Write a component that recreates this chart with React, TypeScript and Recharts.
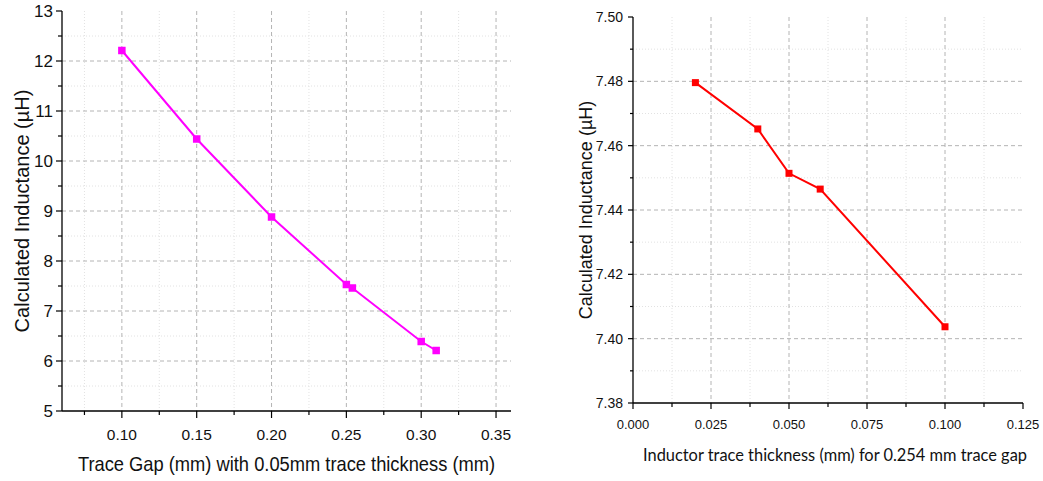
import React from 'react';
import { LineChart, Line, XAxis, YAxis, CartesianGrid } from 'recharts';

// ---------- Left chart data ----------
const gapX = [0.1, 0.15, 0.2, 0.25, 0.254, 0.3, 0.31];
const gapL = [12.21, 10.44, 8.88, 7.53, 7.46, 6.39, 6.21];
const leftXMajor = [0.1, 0.15, 0.2, 0.25, 0.3, 0.35];
const leftXMinor = [0.075, 0.125, 0.175, 0.225, 0.275, 0.325];
const leftXLabels = ['0.10', '0.15', '0.20', '0.25', '0.30', '0.35'];
const leftYMajor = [5, 6, 7, 8, 9, 10, 11, 12, 13];
const leftYMinor = [5.5, 6.5, 7.5, 8.5, 9.5, 10.5, 11.5, 12.5];
const leftYLabels = ['5', '6', '7', '8', '9', '10', '11', '12', '13'];
const leftGridY = [6, 7, 8, 9, 10, 11, 12];

// ---------- Right chart data ----------
const thickX = [0.02, 0.04, 0.05, 0.06, 0.1];
const thickL = [7.4796, 7.4652, 7.4514, 7.4465, 7.4037];
const rightXMajor = [0, 0.025, 0.05, 0.075, 0.1, 0.125];
const rightXMinor = [0.0125, 0.0375, 0.0625, 0.0875, 0.1125];
const rightXLabels = ['0.000', '0.025', '0.050', '0.075', '0.100', '0.125'];
const rightYMajor = [7.38, 7.4, 7.42, 7.44, 7.46, 7.48, 7.5];
const rightYMinor = [7.39, 7.41, 7.43, 7.45, 7.47, 7.49];
const rightYLabels = ['7.38', '7.40', '7.42', '7.44', '7.46', '7.48', '7.50'];
const rightGridX = [0.025, 0.05, 0.075, 0.1];
const rightGridY = [7.4, 7.42, 7.44, 7.46, 7.48];

const leftData = gapX.map((x, i) => ({ x, y: gapL[i] }));
const rightData = thickX.map((x, i) => ({ x, y: thickL[i] }));

const FONT = '"Liberation Sans", Arial, sans-serif';

const idx = (arr: number[], v: number) => arr.findIndex((m) => Math.abs(m - v) < 1e-9);

const makeXTick = (major: number[], labels: string[], majorLen: number, minorLen: number, gap: number, fontSize: number) =>
  (props: any) => {
    const { x, y, payload } = props;
    const i = idx(major, payload.value);
    const isMajor = i >= 0;
    return (
      <g>
        <line x1={x} x2={x} y1={y} y2={y + (isMajor ? majorLen : minorLen)} stroke="#000" strokeWidth={1.2} />
        {isMajor && (
          <text x={x} y={y + gap} dy="0.35em" textAnchor="middle" fontSize={fontSize} fontFamily={FONT} fill="#111">
            {labels[i]}
          </text>
        )}
      </g>
    );
  };

const makeYTick = (major: number[], labels: string[], majorLen: number, minorLen: number, gap: number, fontSize: number) =>
  (props: any) => {
    const { x, y, payload } = props;
    const i = idx(major, payload.value);
    const isMajor = i >= 0;
    return (
      <g>
        <line x1={x - (isMajor ? majorLen : minorLen)} x2={x} y1={y} y2={y} stroke="#000" strokeWidth={1.2} />
        {isMajor && (
          <text x={x - gap} y={y} dy="0.35em" textAnchor="end" fontSize={fontSize} fontFamily={FONT} fill="#111">
            {labels[i]}
          </text>
        )}
      </g>
    );
  };

const SquareDot = (size: number, color: string) => (props: any) => {
  const { cx, cy, index } = props;
  if (cx == null || cy == null) return <g key={index} />;
  return <rect key={index} x={cx - size / 2} y={cy - size / 2} width={size} height={size} fill={color} />;
};

export default function App() {
  return (
    <div style={{ position: 'absolute', left: 0, top: 0, width: 1043, height: 481, background: '#fff' }}>
      <div style={{ position: 'absolute', left: 0, top: 0 }}>
        <LineChart width={540} height={481} data={leftData} margin={{ top: 11, right: 29, bottom: 0, left: 0 }}>
          <CartesianGrid
            stroke="#e2e2e2"
            strokeDasharray="1 2"
            horizontalValues={leftYMinor}
            verticalValues={leftXMinor}
          />
          <CartesianGrid
            stroke="#b4b4b4"
            strokeDasharray="4 3"
            horizontalValues={leftGridY}
            verticalValues={leftXMajor}
          />
          <XAxis
            dataKey="x"
            type="number"
            domain={[0.06, 0.36]}
            ticks={[...leftXMinor, ...leftXMajor].sort((a, b) => a - b)}
            interval={0}
            tickSize={0}
            tickMargin={0}
            tickLine={false}
            height={70}
            axisLine={{ stroke: '#000', strokeWidth: 1.3 }}
            tick={makeXTick(leftXMajor, leftXLabels, 7, 4, 23.5, 15.5)}
            label={{
              value: 'Trace Gap (mm) with 0.05mm trace thickness (mm)',
              position: 'insideBottom',
              offset: 9.5,
              style: {
                fontSize: 20.5,
                fontFamily: FONT,
                fill: '#111',
                transform: 'scaleX(0.893)',
                transformBox: 'fill-box',
                transformOrigin: 'center',
              },
            }}
          />
          <YAxis
            dataKey="y"
            type="number"
            domain={[5, 13]}
            ticks={[...leftYMinor, ...leftYMajor].sort((a, b) => a - b)}
            interval={0}
            tickSize={0}
            tickMargin={0}
            tickLine={false}
            width={62}
            axisLine={{ stroke: '#000', strokeWidth: 1.3 }}
            tick={makeYTick(leftYMajor, leftYLabels, 6, 4, 9, 17)}
            label={{
              value: 'Calculated Inductance (µH)',
              position: 'insideLeft',
              offset: 22,
              angle: -90,
              style: { textAnchor: 'middle', fontSize: 20, fontFamily: FONT, fill: '#111' },
            }}
          />
          <Line
            dataKey="y"
            type="linear"
            stroke="#ff00ff"
            strokeWidth={2}
            dot={SquareDot(7.5, '#ff00ff')}
            activeDot={false}
            isAnimationActive={false}
          />
        </LineChart>
      </div>
      <div style={{ position: 'absolute', left: 540, top: 0 }}>
        <LineChart width={503} height={481} data={rightData} margin={{ top: 17, right: 20, bottom: 0, left: 0 }}>
          <CartesianGrid
            stroke="#e2e2e2"
            strokeDasharray="1 2"
            horizontalValues={rightYMinor}
            verticalValues={rightXMinor}
          />
          <CartesianGrid
            stroke="#b4b4b4"
            strokeDasharray="4 3"
            horizontalValues={rightGridY}
            verticalValues={rightGridX}
          />
          <XAxis
            dataKey="x"
            type="number"
            domain={[0, 0.125]}
            ticks={[...rightXMinor, ...rightXMajor].sort((a, b) => a - b)}
            interval={0}
            tickSize={0}
            tickMargin={0}
            tickLine={false}
            height={78}
            axisLine={{ stroke: '#000', strokeWidth: 1.3 }}
            tick={makeXTick(rightXMajor, rightXLabels, 6, 4, 21, 13)}
            label={{
              value: 'Inductor trace thickness (mm) for 0.254 mm trace gap',
              position: 'insideBottom',
              offset: 20,
              dx: 7,
              style: { fontSize: 16.4, fontFamily: 'Lato, "Liberation Sans", sans-serif', fill: '#111' },
            }}
          />
          <YAxis
            dataKey="y"
            type="number"
            domain={[7.38, 7.5]}
            ticks={[...rightYMinor, ...rightYMajor].sort((a, b) => a - b)}
            interval={0}
            tickSize={0}
            tickMargin={0}
            tickLine={false}
            width={93}
            axisLine={{ stroke: '#000', strokeWidth: 1.3 }}
            tick={makeYTick(rightYMajor, rightYLabels, 5, 3, 10, 14)}
            label={{
              value: 'Calculated Inductance (µH)',
              position: 'insideLeft',
              offset: 46,
              angle: -90,
              style: { textAnchor: 'middle', fontSize: 18, fontFamily: FONT, fill: '#111' },
            }}
          />
          <Line
            dataKey="y"
            type="linear"
            stroke="#ff0000"
            strokeWidth={2}
            dot={SquareDot(7, '#ff0000')}
            activeDot={false}
            isAnimationActive={false}
          />
        </LineChart>
      </div>
    </div>
  );
}
